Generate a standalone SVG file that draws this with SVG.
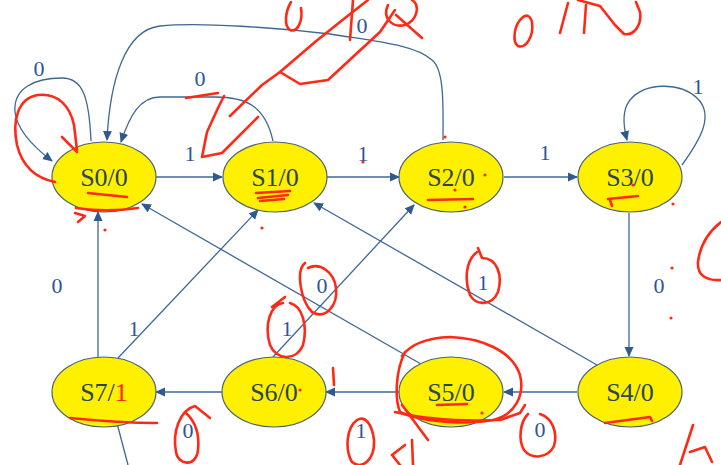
<svg xmlns="http://www.w3.org/2000/svg" width="721" height="465" viewBox="0 0 721 465">
<defs>
<marker id="arr" viewBox="0 0 10 10" refX="9" refY="5" markerWidth="10" markerHeight="10" markerUnits="userSpaceOnUse" orient="auto">
<path d="M0,0.5 L10,5 L0,9.5 z" fill="#2F5A8E"/>
</marker>
<style>
.node ellipse{fill:#FFF000;stroke:#4A6470;stroke-width:1.2}
.node text{font-size:26px;fill:#2C4656;text-anchor:middle}
.edge{fill:none;stroke:#3E6894;stroke-width:1.3}
.lbl{font-size:22px;fill:#2F5597;text-anchor:middle}
.red{fill:none;stroke:#FF2A16;stroke-width:2.6;stroke-linecap:round;stroke-linejoin:round}
.dot{fill:#FF2A16}
</style>
</defs>
<rect width="721" height="465" fill="#FFFFFF"/>
<g id="connectors" font-family="'Liberation Serif', 'DejaVu Serif', 'Times New Roman', serif">
<path class="edge" marker-end="url(#arr)" d="M156,177 L222,177"/>
<path class="edge" marker-end="url(#arr)" d="M327,177 L399,177"/>
<path class="edge" marker-end="url(#arr)" d="M504,177 L577,177"/>
<path class="edge" marker-end="url(#arr)" d="M629,213 L629,356"/>
<path class="edge" marker-end="url(#arr)" d="M577,392 L504,392"/>
<path class="edge" marker-end="url(#arr)" d="M399,392 L326,392"/>
<path class="edge" marker-end="url(#arr)" d="M222,392 L156,392"/>
<path class="edge" marker-end="url(#arr)" d="M98,357 L98,212"/>
<path class="edge" marker-end="url(#arr)" d="M118,358 L258,210"/>
<path class="edge" marker-end="url(#arr)" d="M273,357 L414,205"/>
<path class="edge" marker-end="url(#arr)" d="M421,364 L142,204"/>
<path class="edge" marker-end="url(#arr)" d="M597,365 L314,203"/>
<path class="edge" d="M113,408 L128,465"/>
<path class="edge" marker-end="url(#arr)" d="M91,141 C89,95 82,78 62,78 C35,78 13,88 15,112 C17,130 35,148 52,161"/>
<path class="edge" marker-end="url(#arr)" d="M273,141 C265,105 245,97 215,97 L160,97 C140,97 130,115 121,142"/>
<path class="edge" marker-end="url(#arr)" d="M443,140 C443,110 445,70 432,60 C415,45 380,42 330,34 C280,28 200,22 160,26 C125,30 110,80 107,140"/>
<path class="edge" marker-end="url(#arr)" d="M682,165 C700,140 715,115 697,98 C680,82 645,82 630,100 C622,110 623,125 627,140"/>
<text class="lbl" x="39" y="76">0</text>
<text class="lbl" x="200" y="86">0</text>
<text class="lbl" x="190" y="161">1</text>
<text class="lbl" x="363" y="161">1</text>
<text class="lbl" x="362" y="33">0</text>
<text class="lbl" x="545" y="160">1</text>
<text class="lbl" x="698" y="94">1</text>
<text class="lbl" x="659" y="293">0</text>
<text class="lbl" x="57" y="293">0</text>
<text class="lbl" x="134" y="336">1</text>
<text class="lbl" x="287" y="336">1</text>
<text class="lbl" x="322" y="293">0</text>
<text class="lbl" x="483" y="290">1</text>
<text class="lbl" x="188" y="438">0</text>
<text class="lbl" x="361" y="438">1</text>
<text class="lbl" x="540" y="437">0</text>
</g>
<g font-family="'Liberation Serif', 'DejaVu Serif', 'Times New Roman', serif">
<g id="S0" class="node"><ellipse cx="104" cy="177" rx="52" ry="35"/><text x="104" y="186">S0/0</text></g>
<g id="S1" class="node"><ellipse cx="275" cy="177" rx="52" ry="35"/><text x="275" y="186">S1/0</text></g>
<g id="S2" class="node"><ellipse cx="451" cy="177" rx="52" ry="35"/><text x="451" y="186">S2/0</text></g>
<g id="S3" class="node"><ellipse cx="630" cy="177" rx="52" ry="35"/><text x="630" y="186">S3/0</text></g>
<g id="S4" class="node"><ellipse cx="630" cy="392" rx="52" ry="35"/><text x="630" y="401">S4/0</text></g>
<g id="S5" class="node"><ellipse cx="451" cy="392" rx="52" ry="35"/><text x="451" y="401">S5/0</text></g>
<g id="S6" class="node"><ellipse cx="274" cy="392" rx="52" ry="35"/><text x="274" y="401">S6/0</text></g>
<g id="S7" class="node"><ellipse cx="104" cy="392" rx="52" ry="35"/><text x="104" y="401">S7/<tspan fill="#FF2A16">1</tspan></text></g>
</g>
<g id="annotations">
<path class="red" d="M55,182 C35,178 22,165 17,145 C12,120 18,98 38,95 C58,93 70,106 74,125 L77,150 M62,137 L77,152"/>
<path class="red" d="M88,193 L127,197"/>
<path class="red" stroke-width="3.2" d="M76,208 C95,211 118,211 138,208"/>
<path class="red" d="M75,213 L85,216 L78,222"/>
<path class="red" d="M256,193 L290,191 M258,198 L288,195 M260,201 L284,199"/>
<path class="red" d="M186,98 L218,93"/>
<path class="red" d="M202,157 L207,132 L218,108 L224,96 M202,157 L222,153 L258,117"/>
<path class="red" d="M230,116 L262,85 L280,72 L315,42 L345,18 L368,0"/>
<path class="red" d="M280,72 L300,84 L328,80 L355,55 L380,32 L395,10"/>
<path class="red" d="M291,2 C285,12 284,26 290,30 C298,33 303,20 301,8"/>
<path class="red" d="M353,0 L350,40"/>
<path class="red" d="M388,5 C382,18 392,28 405,25 C418,20 420,5 412,0 M396,15 L422,38"/>
<path class="red" d="M522,18 C514,25 512,42 518,46 C526,49 534,36 532,22 C530,15 526,14 522,18"/>
<path class="red" d="M568,3 L560,33"/>
<path class="red" d="M586,5 L584,33 M578,0 L600,6 L615,25 L624,34 C634,36 642,25 640,12 L636,2"/>
<path class="red" d="M721,222 C708,232 700,246 698,262 C697,275 706,281 721,280"/>
<path class="red" d="M428,200 L473,199"/>
<path class="red" d="M608,199 L638,196 M610,200 L612,206"/>
<path class="red" d="M305,263 C296,270 300,300 312,312 C326,320 338,305 336,288 C334,272 320,262 308,268"/>
<path class="red" d="M283,303 C270,305 264,325 270,345 C276,360 296,362 303,345 C308,325 302,306 290,303 M272,307 L285,297"/>
<path class="red" d="M333,368 L334,385"/>
<path class="red" d="M70,418 C100,421 130,423 157,423"/>
<path class="red" d="M210,418 L195,406 C180,410 172,432 176,452 C178,465 196,468 198,450 C200,432 194,420 185,412"/>
<path class="red" d="M405,352 C395,372 395,400 400,412 C420,422 470,425 493,420 C515,415 525,395 520,375 C512,350 480,338 450,337 C425,338 410,345 402,356"/>
<path class="red" d="M395,412 C420,418 450,422 500,420 L520,413 L525,405 M402,405 L428,440"/>
<path class="red" d="M437,405 L467,404"/>
<path class="red" d="M357,420 C346,428 345,450 352,462 C362,470 375,460 374,440 C372,424 365,415 357,420"/>
<path class="red" d="M405,445 L392,455 L400,465 M412,440 L413,465"/>
<path class="red" d="M528,414 C520,422 518,440 524,450 C532,460 548,458 554,446 C558,432 552,418 540,414"/>
<path class="red" d="M605,423 L650,417 L652,421"/>
<path class="red" d="M477,252 C466,260 464,280 470,295 C476,306 492,306 498,292 C503,275 497,258 482,258 L478,248"/>
<path class="red" d="M693,425 L680,465 M690,452 L705,447 L712,462"/>
<circle class="dot" cx="445" cy="137" r="1.6"/>
<circle class="dot" cx="485" cy="175" r="1.6"/>
<circle class="dot" cx="455" cy="190" r="1.6"/>
<circle class="dot" cx="465" cy="207" r="1.6"/>
<circle class="dot" cx="363" cy="162" r="1.6"/>
<circle class="dot" cx="262" cy="228" r="1.6"/>
<circle class="dot" cx="105" cy="230" r="1.6"/>
<circle class="dot" cx="633" cy="185" r="1.6"/>
<circle class="dot" cx="673" cy="204" r="1.6"/>
<circle class="dot" cx="672" cy="268" r="1.6"/>
<circle class="dot" cx="671" cy="318" r="1.6"/>
<circle class="dot" cx="482" cy="413" r="1.6"/>
<circle class="dot" cx="300" cy="390" r="1.6"/>
</g>
</svg>
